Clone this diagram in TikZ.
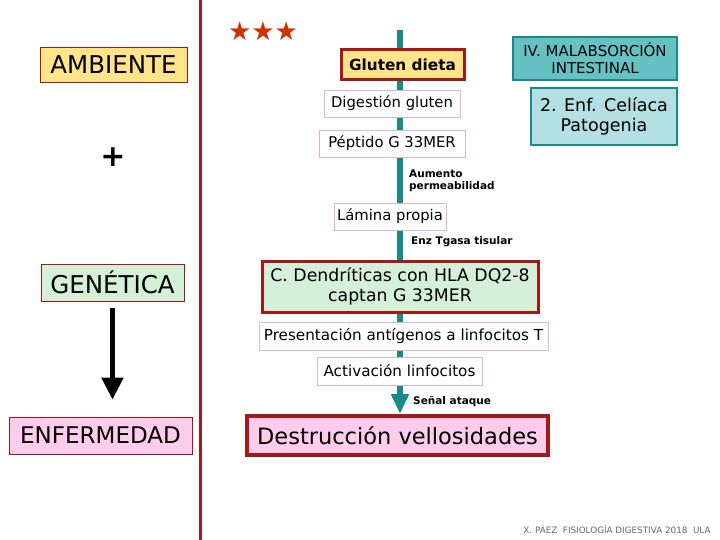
\documentclass[tikz,border=0pt]{standalone}
\usepackage{fontspec}
\setmainfont{DejaVu Sans}
\usetikzlibrary{positioning, arrows.meta, backgrounds}
\definecolor{darkred}{RGB}{163,24,24}
\definecolor{starred}{RGB}{204,51,0}
\definecolor{teal}{RGB}{23,138,138}
\definecolor{yellowfill}{RGB}{255,228,138}
\definecolor{greenfill}{RGB}{212,240,216}
\definecolor{pinkfill}{RGB}{255,204,236}
\definecolor{pinkline}{RGB}{222,178,212}
\definecolor{tealfill}{RGB}{102,194,194}
\definecolor{cyanfill}{RGB}{180,224,228}
\newcommand{\fs}[1]{\fontsize{#1}{1.15\dimexpr#1pt\relax}\selectfont}

\begin{document}
\begin{tikzpicture}[x=1pt, y=-1pt]
	\tikzset{
		factor/.style={%
			draw=darkred,
			line width=0.8pt,
			inner sep=0pt,
			font=\fs{24.5}},
		stepbox/.style={%
			draw=pinkline,
			fill=white,
			line width=0.8pt,
			inner sep=0pt,
			minimum height=27pt,
			font=\fs{14.8}},
		keybox/.style={%
			draw=darkred,
			line width=3pt,
			inner sep=0pt},
		tealbox/.style={%
			draw=teal,
			line width=2.5pt,
			inner sep=0pt,
			align=center},
		note/.style={%
			anchor=west,
			inner sep=0pt,
			align=left,
			font=\bfseries\fs{10.5}}
	}
	\tikzstyle{spine_style} = [draw=teal, line width=6pt, -{Triangle[width=17pt,length=20pt]}]
	\tikzstyle{gene_style} = [draw=black, line width=5pt, -{Triangle[width=21pt,length=22pt]}]

	\useasboundingbox (0,0) rectangle (720,540);

	% left column
	\node[factor, fill=yellowfill, minimum width=147pt, minimum height=35pt] (ambiente) at (113.5, 64.5) {AMBIENTE};
	\node[font=\bfseries\fs{30}] (plus) at (113, 157) {+};
	\node[factor, fill=greenfill, minimum width=143pt, minimum height=37pt] (genetica) at (112.5, 282.5) {GENÉTICA};
	\node[factor, fill=pinkfill, minimum width=183pt, minimum height=37pt, font=\fs{23}] (enfermedad) at (100.5, 435.5) {ENFERMEDAD};

	\coordinate (divtop) at (200, 0);
	\coordinate (divbot) at (200, 540);
	\draw[darkred, line width=3pt] (divtop) -- (divbot);

	% right column
	\node[text=starred, font=\fs{26}] (stars) at (263, 31) {★★★};
	\coordinate (spinetop) at (400, 30);

	\node[keybox, fill=yellowfill, minimum width=123pt, minimum height=30pt, font=\bfseries\fs{15.3}] (gluten) at (402.5, 65) {Gluten dieta};
	\node[stepbox, minimum width=136pt] (digestion) at (392, 103.5) {Digestión gluten};
	\node[stepbox, minimum width=146pt] (peptido) at (392, 143.5) {Péptido G 33MER};
	\node[note] (aumento) at (409, 181) {Aumento\\permeabilidad};
	\node[stepbox, minimum width=112pt] (lamina) at (390, 216.5) {Lámina propia};
	\node[note] (tgasa) at (411, 242) {Enz Tgasa tisular};
	\node[keybox, fill=greenfill, minimum width=276pt, minimum height=51pt, align=center, font=\fs{17.3}] (dendriticas) at (400, 286.5) {C. Dendríticas con HLA DQ2-8\\captan G 33MER};
	\node[stepbox, minimum width=289pt, minimum height=28pt, font=\fs{15.2}] (presentacion) at (403.5, 336) {Presentación antígenos a linfocitos T};
	\node[stepbox, minimum width=165pt, minimum height=28pt, font=\fs{15.2}] (activacion) at (399.5, 371) {Activación linfocitos};
	\node[note] (senal) at (413, 402) {Señal ataque};
	\node[keybox, line width=4pt, fill=pinkfill, minimum width=301pt, minimum height=39pt, font=\fs{22.5}] (destruccion) at (397.5, 435.5) {Destrucción vellosidades};

	\node[tealbox, fill=tealfill, minimum width=164pt, minimum height=43pt, font=\fs{15}] (malab) at (595, 58.5) {IV. MALABSORCIÓN\\INTESTINAL};
	\node[tealbox, fill=cyanfill, minimum width=146pt, minimum height=57pt, font=\fs{17.5}] (celiaca) at (604, 116.5) {2. Enf. Celíaca\\Patogenia};

	\node[text=black!60, font=\fs{8.8}] (credito) at (617, 529) {X. PÁEZ \ FISIOLOGÍA DIGESTIVA 2018 \ ULA};

	% connectors
	\begin{pgfonlayer}{background}
		\draw[spine_style] (spinetop) -- (spinetop |- destruccion.north);
	\end{pgfonlayer}
	\draw[gene_style, shorten <=7pt, shorten >=17pt] (genetica.south) -- (genetica.south |- enfermedad.north);

\end{tikzpicture}
\end{document}
